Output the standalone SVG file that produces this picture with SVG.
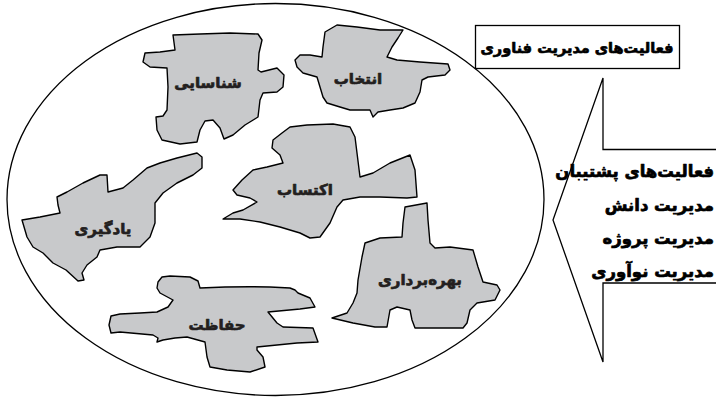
<svg xmlns="http://www.w3.org/2000/svg" width="716" height="398" viewBox="0 0 716 398">
<style>
.blob{fill:#c8c9cb;stroke:#000;stroke-width:1.4;stroke-linejoin:round}
.lbl{font-family:"DejaVu Sans",sans-serif;font-weight:bold;font-size:15px;fill:#231f20;stroke:#231f20;stroke-width:0.7;stroke-linejoin:round;text-anchor:middle}
.side{font-family:"DejaVu Sans",sans-serif;font-weight:bold;font-size:16.5px;fill:#000;stroke:#000;stroke-width:0.7;stroke-linejoin:round;direction:rtl;text-anchor:start}
.line{fill:none;stroke:#000;stroke-width:1.3}
</style>
<rect width="716" height="398" fill="#fff"/>
<g id="frame">
<ellipse class="line" cx="275.5" cy="199.5" rx="268.5" ry="196"/>
</g>
<g id="shenasayi">
<path class="blob" d="M173,35 L200,34 L230,33 L258,34 L262,40 L259,53 L258,70 L261,72 L277,68 L284,75 L283,87 L277,92 L263,93 L260,100 L258,117 L245,125 L233,135 L224,139 L220,128 L213,120 L205,121 L200,130 L197,142 L180,144 L162,140 L157,130 L156,117 L163,116 L167,110 L168,87 L167,68 L150,67 L143,62 L145,53 L160,52 L175,50 Z"/>
<text class="lbl" x="208" y="88">شناسایی</text>
</g>
<g id="entekhab">
<path class="blob" d="M325,32 L337,25 L357,27 L380,30 L403,30 L398,38 L392,47 L387,57 L397,60 L420,62 L448,64 L450,70 L445,75 L428,77 L422,80 L420,92 L415,103 L403,108 L390,110 L378,112 L373,117 L370,110 L350,110 L340,107 L327,103 L323,97 L320,87 L317,77 L303,73 L297,67 L295,60 L300,55 L310,55 L322,57 L323,47 Z"/>
<text class="lbl" x="358" y="84">انتخاب</text>
</g>
<g id="yadgiri">
<path class="blob" d="M22,220 L40,217 L60,213 L58,205 L57,197 L67,192 L83,183 L100,175 L107,175 L108,192 L123,188 L133,180 L147,168 L160,163 L177,158 L197,153 L202,157 L202,168 L193,175 L177,183 L163,193 L155,203 L155,223 L150,237 L140,247 L117,247 L100,250 L97,257 L87,265 L82,273 L84,280 L78,281 L66,270 L53,263 L43,253 L33,247 L27,237 Z"/>
<text class="lbl" x="103" y="234">یادگیری</text>
</g>
<g id="ektesab">
<path class="blob" d="M223,219 L233,213 L243,210 L257,202 L250,198 L237,195 L233,190 L242,180 L253,170 L267,167 L283,163 L280,155 L272,148 L273,140 L282,133 L290,127 L307,125 L333,124 L350,127 L355,137 L357,153 L360,177 L373,173 L390,163 L410,155 L415,170 L417,197 L407,198 L380,197 L360,197 L343,200 L337,207 L330,223 L320,237 L310,238 L300,233 L280,227 L260,222 L240,219 Z"/>
<text class="lbl" x="305" y="195">اکتساب</text>
</g>
<g id="bahrebardari">
<path class="blob" d="M332,318 L347,313 L353,303 L357,293 L358,280 L362,257 L365,243 L380,238 L402,237 L403,223 L405,207 L427,203 L428,220 L430,243 L435,248 L450,247 L473,250 L478,267 L483,282 L497,285 L500,290 L495,300 L477,303 L470,310 L467,323 L463,328 L437,328 L415,328 L412,320 L410,310 L397,307 L390,310 L387,327 L375,327 L353,323 Z"/>
<text class="lbl" x="420" y="285">بهره‌برداری</text>
</g>
<g id="hefazat">
<path class="blob" d="M162,277 L170,276 L190,277 L198,281 L200,288 L225,287 L250,286.7 L270,287 L290,288 L295,290 L298,293 L310,298 L315,307 L300,309 L268,312 L277,323 L283,327 L313,328 L318,342 L297,343 L257,347 L257,350 L263,357 L265,367 L250,372 L227,370 L210,367 L207,357 L205,342 L187,337 L175,338 L163,340 L157,342 L158,338 L153,335 L120,332 L111,333 L109,325 L111,316 L120,314 L140,313 L157,312 L168,307 L173,300 L160,293 L157,288 L158,282 Z"/>
<text class="lbl" x="217" y="330">حفاظت</text>
</g>
<g id="tech-box">
<rect class="line" x="475.5" y="25.5" width="204" height="43"/>
<text class="lbl" x="577" y="53" style="fill:#000;stroke:#000;font-size:14.5px">فعالیت‌های مدیریت فناوری</text>
</g>
<g id="callout">
<path class="line" d="M716,149.5 H603 V78 L553,220 L603,362 V283 H716"/>
<text class="side" x="714" y="177">فعالیت‌های پشتیبان</text>
<text class="side" x="714" y="211">مدیریت دانش</text>
<text class="side" x="714" y="244">مدیریت پروژه</text>
<text class="side" x="714" y="277">مدیریت نوآوری</text>
</g>
</svg>
